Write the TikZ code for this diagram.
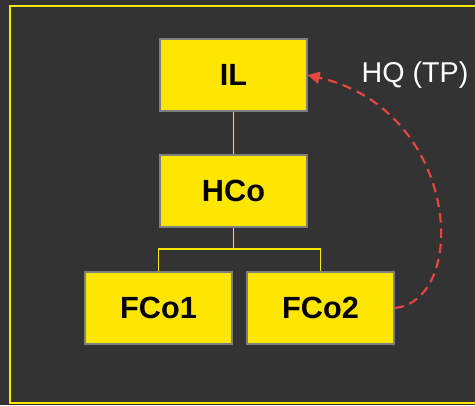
\documentclass[tikz,border=0pt]{standalone}
\usepackage{fontspec}
\setmainfont{Liberation Sans}
\usetikzlibrary{arrows.meta}
\definecolor{bgdark}{HTML}{333333}
\definecolor{boxyellow}{HTML}{FFE600}
\definecolor{boxgray}{HTML}{7F7F7F}
\definecolor{hqred}{HTML}{E8473F}
\begin{document}
\begin{tikzpicture}[x=0.75pt, y=-0.75pt,
    unit/.style={draw=boxgray, line width=1.2pt, fill=boxyellow, minimum width=110pt, minimum height=54pt, inner sep=0pt, font=\fontsize{23}{27}\selectfont\bfseries},
    link/.style={draw=boxyellow, line width=1.4pt},
    hq/.style={draw=hqred, line width=1.6pt, dash pattern=on 7pt off 4.5pt, -{Triangle[length=9pt, width=9pt]}}]
    \useasboundingbox (0,0) rectangle (475,405);
    \fill[bgdark] (0,0) rectangle (475,405);
    \draw[boxyellow, line width=1.5pt] (10,6) rectangle (480,403);

    \node[unit] (il)   at (233.5,75)  {IL};
    \node[unit] (hco)  at (233.5,191) {HCo};
    \node[unit] (fco1) at (158.5,308) {FCo1};
    \node[unit] (fco2) at (320.5,308) {FCo2};
    \node[text=white, font=\fontsize{21.5}{26}\selectfont, anchor=west] (hqlabel) at (357,75) {HQ (TP)};

    \draw[link] (il) -- (hco);
    \draw[link] (hco.south) -- ++(0,21) -| (fco1.north);
    \draw[link] (hco.south) -- ++(0,21) -| (fco2.north);

    \draw[hq] (fco2.east) .. controls (470,300) and (460,110) .. (il.east);
\end{tikzpicture}
\end{document}
